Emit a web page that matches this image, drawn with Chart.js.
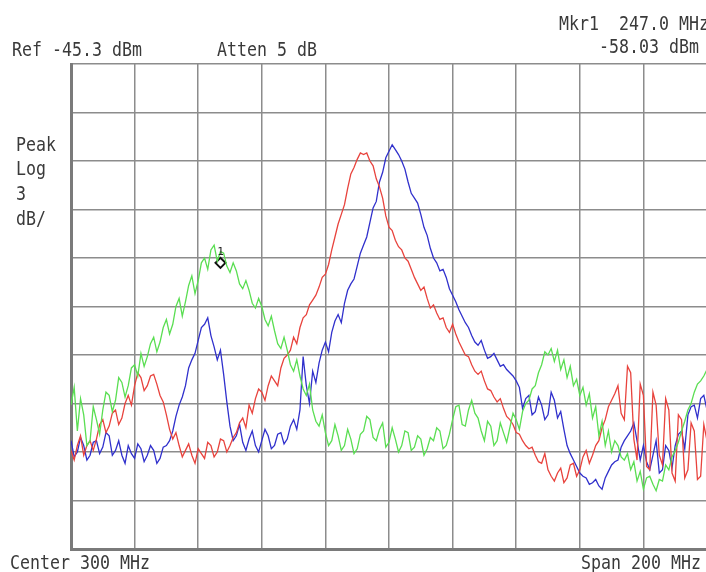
<!DOCTYPE html>
<html>
<head>
<meta charset="utf-8">
<script src="https://cdn.jsdelivr.net/npm/chart.js@4/dist/chart.umd.min.js"></script>
<style>
  html, body { margin: 0; padding: 0; background: #fff; overflow: hidden; }
  #wrap { width: 706px; height: 572px; position: relative; overflow: hidden; }
</style>
</head>
<body>
<div id="wrap"><canvas id="c" width="714" height="572"></canvas></div>
<script>
// ── sweep: 200–400 MHz, one reading per MHz ──────────────────────
const START_MHZ = 200;
const STEP_MHZ  = 1;

// trace levels in dBm
const greenTrace = [
  -66.4, -65.3, -68.0, -66.0, -67.0, -68.9, -68.6, -66.5, -67.3, -68.2,
  -66.7, -65.6, -65.8, -66.8, -66.1, -64.7, -65.0, -65.9, -65.2, -64.1,
  -63.9, -64.6, -63.2, -64.0, -63.4, -62.6, -62.2, -63.1, -62.5, -61.6,
  -61.1, -62.0, -61.4, -60.3, -59.8, -60.9, -60.0, -59.0, -58.4, -59.5,
  -58.7, -57.6, -57.3, -58.0, -56.8, -56.5, -57.5, -56.9, -57.0, -57.8,
  -58.2, -57.6, -58.1, -58.9, -59.2, -58.7, -59.3, -60.1, -60.4, -59.8,
  -60.3, -61.1, -61.5, -60.9, -61.8, -62.6, -62.9, -62.2, -63.0, -63.9,
  -64.3, -63.6, -64.6, -65.4, -65.8, -65.1, -66.7, -67.4, -67.7, -67.0,
  -68.1, -68.9, -68.6, -67.6, -68.3, -69.2, -68.9, -67.9, -68.5, -69.4,
  -69.1, -68.2, -68.0, -67.1, -67.3, -68.4, -68.6, -67.9, -67.5, -69.0,
  -68.7, -67.8, -68.5, -69.3, -68.9, -68.0, -68.1, -69.2, -69.0, -68.3,
  -68.5, -69.5, -69.1, -68.4, -68.6, -67.8, -68.0, -69.1, -68.9, -68.2,
  -67.3, -66.5, -66.4, -67.6, -67.7, -66.7, -66.1, -66.9, -67.2, -68.0,
  -68.6, -67.4, -67.7, -68.9, -68.6, -67.5, -68.1, -68.7, -67.8, -66.9,
  -67.3, -67.9, -66.8, -66.3, -66.1, -65.4, -65.2, -64.4, -63.9, -63.1,
  -63.3, -62.9, -63.7, -63.0, -64.2, -63.6, -64.7, -64.0, -65.2, -64.8,
  -65.8, -65.3, -66.4, -65.7, -67.2, -66.5, -68.3, -67.4, -68.9, -68.0,
  -69.3, -68.6, -68.9, -69.6, -69.8, -69.4, -70.4, -69.9, -71.1, -70.5,
  -71.6, -70.9, -70.8, -71.3, -71.7, -71.0, -71.1, -70.1, -70.4, -69.6,
  -69.2, -68.7, -68.0, -67.4, -66.7, -66.3, -65.6, -65.1, -64.9, -64.6,
  -64.2,
];
const blueTrace = [
  -68.6, -69.6, -69.3, -68.4, -68.9, -69.8, -69.5, -68.7, -68.6, -69.4,
  -69.0, -68.1, -68.3, -69.5, -69.2, -68.6, -69.5, -70.0, -68.9, -69.4,
  -69.7, -68.8, -69.1, -69.9, -69.5, -68.9, -69.2, -70.0, -69.7, -69.0,
  -68.9, -68.6, -68.0, -67.1, -66.4, -65.9, -65.2, -64.1, -63.6, -63.2,
  -62.4, -61.6, -61.4, -61.0, -62.1, -62.8, -63.6, -63.0, -64.5, -66.2,
  -67.7, -68.6, -68.3, -67.6, -68.7, -69.2, -68.5, -68.0, -68.9, -69.3,
  -68.6, -67.9, -68.3, -69.1, -68.9, -68.2, -68.1, -68.8, -68.5, -67.7,
  -67.3, -67.9, -66.7, -63.4, -65.2, -66.3, -64.3, -65.0, -63.8, -63.0,
  -62.5, -63.1, -61.9, -61.2, -60.8, -61.3, -60.1, -59.3, -58.9, -58.6,
  -57.8, -57.0, -56.5, -56.0, -55.1, -54.2, -53.8, -52.6, -52.0, -51.1,
  -50.7, -50.3, -50.6, -50.9, -51.3, -51.8, -52.6, -53.3, -53.6, -53.9,
  -54.6, -55.4, -55.9, -56.7, -57.3, -57.6, -58.1, -58.0, -58.5, -59.2,
  -59.6, -60.0, -60.5, -60.9, -61.3, -61.6, -62.1, -62.5, -62.7, -62.4,
  -63.0, -63.5, -63.4, -63.2, -63.6, -64.0, -63.9, -64.2, -64.4, -64.6,
  -64.9, -65.3, -66.6, -66.0, -65.8, -67.0, -66.8, -65.9, -66.4, -67.3,
  -67.0, -65.6, -66.1, -67.2, -66.8, -67.9, -68.9, -69.4, -69.8, -70.2,
  -70.6, -70.8, -70.9, -71.3, -71.2, -71.0, -71.4, -71.6, -70.9, -70.5,
  -70.1, -69.9, -69.8, -69.0, -68.6, -68.3, -68.0, -67.5, -68.6, -69.8,
  -68.9, -69.9, -70.4, -69.5, -68.6, -70.6, -70.4, -68.9, -69.2, -70.3,
  -68.9, -68.2, -68.0, -69.1, -67.0, -66.5, -66.4, -67.2, -66.0, -65.8,
  -66.7,
];
const redTrace = [
  -69.2, -69.8, -68.9, -68.3, -69.5, -68.9, -68.6, -69.2, -68.5, -67.6,
  -67.3, -68.1, -67.7, -66.9, -66.7, -67.6, -67.2, -66.3, -65.8, -66.4,
  -65.2, -64.4, -64.7, -65.5, -65.2, -64.6, -64.5, -65.1, -65.8, -66.2,
  -67.0, -67.9, -68.5, -68.1, -68.9, -69.6, -69.2, -68.8, -69.5, -70.0,
  -69.1, -69.4, -69.7, -68.7, -68.9, -69.6, -69.3, -68.5, -68.6, -69.3,
  -68.9, -68.4, -68.1, -67.5, -67.2, -67.8, -66.4, -66.9, -66.0, -65.4,
  -65.6, -66.1, -65.2, -64.6, -64.9, -65.2, -64.1, -63.5, -63.3, -63.0,
  -62.2, -62.6, -61.6, -61.0, -60.8, -60.2, -59.9, -59.6, -59.1, -58.5,
  -58.3, -57.7, -56.8, -56.0, -55.2, -54.6, -54.0, -53.0, -52.1, -51.7,
  -51.2, -50.8, -50.9, -50.8, -51.3, -51.6, -52.4, -52.9, -53.6, -54.7,
  -55.4, -55.6, -56.2, -56.6, -56.8, -57.3, -57.5, -58.0, -58.5, -58.9,
  -59.3, -59.1, -59.8, -60.4, -60.2, -60.7, -61.1, -61.0, -61.6, -61.9,
  -61.4, -62.0, -62.5, -62.9, -63.3, -63.4, -63.9, -64.3, -64.5, -64.3,
  -64.9, -65.4, -65.5, -65.9, -66.2, -66.0, -66.6, -67.1, -67.3, -67.6,
  -68.1, -68.2, -68.6, -68.9, -69.1, -69.0, -69.5, -69.9, -70.0, -69.4,
  -70.4, -70.8, -71.1, -70.6, -70.3, -71.2, -70.9, -70.1, -70.0, -70.8,
  -70.4, -69.6, -69.2, -70.0, -69.5, -68.9, -68.6, -67.8, -67.3, -66.5,
  -66.1, -65.7, -65.2, -66.9, -67.3, -64.0, -64.4, -68.5, -69.8, -65.1,
  -65.8, -70.2, -70.4, -65.6, -66.4, -69.5, -70.1, -66.0, -66.7, -70.6,
  -71.1, -67.0, -67.3, -70.9, -70.4, -67.5, -68.0, -71.0, -70.8, -67.6,
  -68.6,
];

// graticule: 10 divisions across, 3 dB per division down from ref
const xTicks = [200, 220, 240, 260, 280, 300, 320, 340, 360, 380, 400];
const yTicks = [-75.3, -72.3, -69.3, -66.3, -63.3, -60.3, -57.3, -54.3, -51.3, -48.3, -45.3];

// marker 1
const markerMHz = 247.0;
const markerDbm = -57.6;

const COL = { red: '#e8433d', blue: '#3030cc', green: '#5ade52', grid: '#8c8c8c', text: '#3a3a3a' };

const toPts = arr => arr.map((v, i) => ({ x: START_MHZ + i * STEP_MHZ, y: v }));

// condensed, monospace-ish screen text
function screenText(ctx, str, x, y, align) {
  ctx.save();
  ctx.translate(x, y);
  ctx.scale(0.83, 1);
  ctx.textAlign = align || 'left';
  ctx.fillText(str, 0, 0);
  ctx.restore();
}

const annotations = {
  id: 'saText',
  afterDraw(chart) {
    const { ctx, scales } = chart;
    ctx.save();
    ctx.fillStyle = COL.text;
    ctx.font = '20px "DejaVu Sans Mono"';
    ctx.textBaseline = 'alphabetic';
    screenText(ctx, 'Ref -45.3 dBm', 12, 56);
    screenText(ctx, 'Atten 5 dB', 217, 56);
    screenText(ctx, 'Mkr1  247.0 MHz', 709, 30, 'right');
    screenText(ctx, '-58.03 dBm', 699, 53, 'right');
    screenText(ctx, 'Peak', 16, 151);
    screenText(ctx, 'Log', 16, 175);
    screenText(ctx, '3', 16, 200);
    screenText(ctx, 'dB/', 16, 225);
    screenText(ctx, 'Center 300 MHz', 10, 569);
    screenText(ctx, 'Span 200 MHz', 701, 569, 'right');

    // marker number above the diamond
    const mx = scales.x.getPixelForValue(markerMHz);
    const my = scales.y.getPixelForValue(markerDbm);
    ctx.fillStyle = '#222';
    ctx.font = '11px "DejaVu Sans Mono"';
    ctx.textAlign = 'center';
    ctx.fillText('1', mx, my - 8);
    ctx.restore();
  },
};

const gridScale = (min, max, ticks) => ({
  type: 'linear',
  min, max,
  afterBuildTicks: s => { s.ticks = ticks.map(v => ({ value: v })); },
  ticks: { display: false },
  grid: { color: COL.grid, lineWidth: 1.5, drawTicks: false },
  border: { display: true, color: '#7a7a7a', width: 3 },
});

new Chart(document.getElementById('c'), {
  type: 'line',
  data: {
    datasets: [
      { data: toPts(greenTrace), borderColor: COL.green, borderWidth: 1.3 },
      { data: toPts(redTrace),   borderColor: COL.red,   borderWidth: 1.3 },
      { data: toPts(blueTrace),  borderColor: COL.blue,  borderWidth: 1.3 },
      {
        type: 'scatter',
        data: [{ x: markerMHz, y: markerDbm }],
        pointStyle: 'rectRot', pointRadius: 5,
        pointBackgroundColor: '#fff', pointBorderColor: '#111', pointBorderWidth: 2,
      },
    ],
  },
  options: {
    responsive: false,
    animation: false,
    layout: { padding: { left: 71, top: 64, right: 0, bottom: 23 } },
    elements: { point: { radius: 0 }, line: { tension: 0 } },
    scales: {
      x: gridScale(200, 400, xTicks),
      y: gridScale(-75.3, -45.3, yTicks),
    },
    plugins: { legend: { display: false }, tooltip: { enabled: false } },
  },
  plugins: [annotations],
});
</script>
</body>
</html>
